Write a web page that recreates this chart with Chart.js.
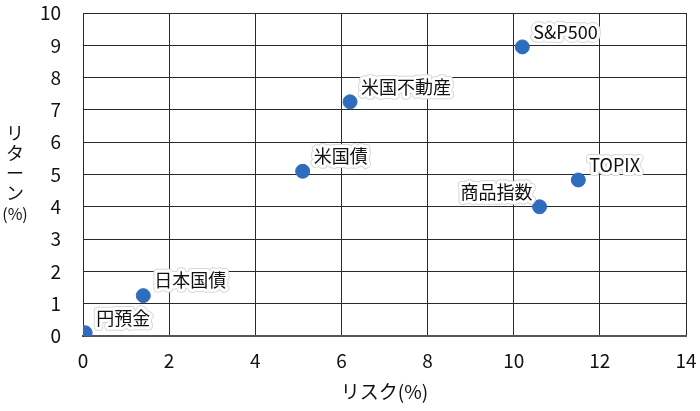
<!DOCTYPE html>
<html>
<head>
<meta charset="utf-8">
<script src="https://cdn.jsdelivr.net/npm/chart.js@4"></script>
<style>
  html, body { margin: 0; padding: 0; background: #fff; }
  #wrap { width: 700px; height: 411px; }
</style>
</head>
<body>
<div id="wrap"><canvas id="myChart"></canvas></div>
<script>
// data set
var names = ["円預金", "日本国債", "米国債", "米国不動産", "S&P500", "商品指数", "TOPIX"];
var risk = [0.05, 1.4, 5.1, 6.2, 10.2, 10.6, 11.5];
var ret = [0.1, 1.25, 5.1, 7.25, 8.95, 4.0, 4.83];

var points = names.map((n, i) => ({ x: risk[i], y: ret[i], name: n }));
var font = "'Noto Sans CJK JP', 'Noto Sans', sans-serif";

// labels next to each point, with a white halo
const pointLabels = {
  id: 'pointLabels',
  afterDatasetsDraw(chart) {
    const ctx = chart.ctx;
    const meta = chart.getDatasetMeta(0);
    ctx.save();
    ctx.font = "18px " + font;
    ctx.textBaseline = 'middle';
    meta.data.forEach((el, i) => {
      const left = names[i] === "商品指数";
      const tx = left ? el.x - 7 : el.x + 11;
      const ty = el.y - 15;
      ctx.textAlign = left ? 'right' : 'left';
      ctx.lineJoin = 'round';
      ctx.strokeStyle = '#d8d8d8';
      ctx.lineWidth = 8;
      ctx.strokeText(names[i], tx, ty);
      ctx.strokeStyle = '#fff';
      ctx.lineWidth = 6;
      ctx.strokeText(names[i], tx, ty);
      ctx.fillStyle = '#111';
      ctx.fillText(names[i], tx, ty);
    });
    ctx.restore();
  }
};

// vertical y axis title
const yTitle = {
  id: 'yTitle',
  afterDraw(chart) {
    const ctx = chart.ctx;
    ctx.save();
    ctx.font = "18px " + font;
    ctx.fillStyle = '#111';
    ctx.textAlign = 'center';
    ctx.textBaseline = 'middle';
    ["リ", "タ", "ー", "ン"].forEach((c, i) => ctx.fillText(c, 15, 133 + i * 20));
    ctx.font = "16px " + font;
    ctx.fillText("(%)", 15, 214);
    ctx.restore();
  }
};

new Chart("myChart", {
  type: "scatter",
  data: {
    datasets: [{
      data: points,
      backgroundColor: "#2e6dbd",
      borderColor: "#2e6dbd",
      pointRadius: 7,
      pointHoverRadius: 7
    }]
  },
  options: {
    animation: false,
    responsive: true,
    maintainAspectRatio: false,
    layout: { padding: { top: 13, right: 14, left: 0, bottom: 0 } },
    plugins: {
      legend: { display: false },
      tooltip: { enabled: false }
    },
    scales: {
      x: {
        min: 0, max: 14,
        ticks: { stepSize: 2, color: '#111', font: { size: 19, family: font }, padding: 0 },
        grid: { color: '#2a2a2a', lineWidth: 1, drawTicks: true, tickLength: 13, tickColor: 'rgba(0,0,0,0)' },
        border: { color: '#555', width: 2 },
        title: { display: true, text: "リスク(%)", color: '#111', font: { size: 19, family: font }, padding: { top: 4, bottom: 8 } },
        afterFit: s => { s.height = 75; }
      },
      y: {
        min: 0, max: 10,
        ticks: { stepSize: 1, color: '#111', font: { size: 19, family: font }, padding: 0 },
        grid: { color: '#2a2a2a', lineWidth: 1, drawTicks: true, tickLength: 22, tickColor: 'rgba(0,0,0,0)' },
        border: { color: '#2a2a2a' },
        afterFit: s => { s.width = 83; }
      }
    }
  },
  plugins: [pointLabels, yTitle]
});
</script>
</body>
</html>
